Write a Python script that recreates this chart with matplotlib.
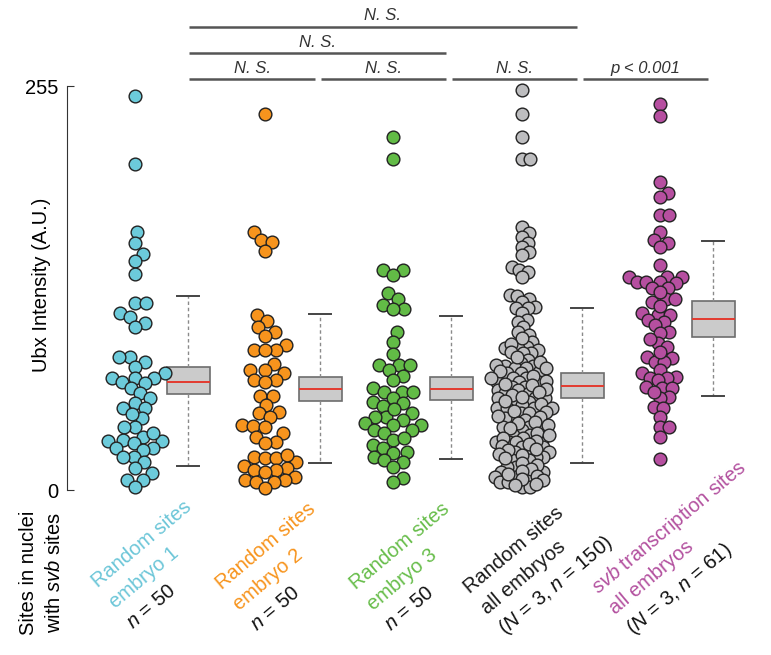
import numpy as np
import matplotlib.pyplot as plt
from matplotlib.transforms import blended_transform_factory

plt.rcParams['font.family'] = ['Liberation Sans', 'DejaVu Sans']
plt.rcParams['mathtext.fontset'] = 'custom'
plt.rcParams['mathtext.rm'] = 'Liberation Sans'
plt.rcParams['mathtext.it'] = 'Liberation Sans:italic'

# =============================================================================
# data (Ubx intensity, A.U.)
# =============================================================================
embryo1 = [248.7, 205.6, 162.7, 155.9, 149.2, 144.4, 136.4, 118.3, 118.3, 111.5,
           109.4, 105.6, 103.1, 84.2, 84.2, 81.0, 77.9, 73.7, 70.9, 70.9,
           70.9, 68.2, 67.3, 64.2, 61.0, 57.9, 55.1, 52.0, 52.0, 45.2,
           40.0, 40.0, 33.7, 31.6, 30.9, 30.9, 29.5, 26.3, 26.3, 25.3,
           21.0, 21.0, 17.9, 13.7, 10.5, 6.3, 6.3, 1.7, 36.0, 48.0]
embryo2 = [237.4, 162.7, 157.8, 156.4, 151.1, 110.5, 106.9, 102.7, 99.9, 97.4,
           91.5, 88.4, 88.4, 88.4, 79.4, 75.8, 75.8, 74.1, 69.4, 69.4,
           68.4, 59.3, 59.3, 53.7, 49.4, 48.4, 46.3, 41.0, 40.4, 40.0,
           35.8, 33.7, 30.5, 29.5, 21.0, 20.0, 20.0, 17.9, 15.2, 13.7,
           12.6, 12.6, 11.6, 8.4, 6.3, 6.3, 5.2, 5.2, 1.1, 22.0]
embryo3 = [222.6, 209.0, 138.9, 138.9, 135.7, 124.2, 120.4, 116.6, 114.1, 114.1,
           99.6, 93.2, 85.9, 78.9, 78.9, 78.9, 75.8, 72.0, 69.4, 64.2,
           62.0, 62.0, 62.0, 57.9, 55.7, 54.7, 53.0, 48.4, 46.3, 46.3,
           44.2, 42.1, 41.0, 41.0, 37.9, 37.9, 35.8, 31.6, 28.4, 26.3,
           24.2, 23.2, 21.0, 18.9, 17.9, 14.7, 7.4, 5.2, 51.0, 33.0]
all_random = [252.5, 237.4, 222.6, 209.0, 209.0, 166.2, 162.0, 159.9, 156.1, 153.2,
              150.4, 148.3, 140.6, 138.9, 137.8, 134.7, 123.1, 122.5, 120.4, 118.9,
              115.7, 114.7, 114.7, 111.5, 107.3, 106.3, 103.1, 99.9, 97.9, 93.6,
              90.5, 89.5, 89.5, 88.4, 86.3, 86.3, 82.1, 80.0, 78.3, 78.3,
              76.8, 76.8, 74.7, 73.7, 73.7, 70.5, 70.5, 68.4, 68.4, 68.4,
              65.2, 65.2, 63.1, 63.1, 61.0, 61.0, 57.9, 57.9, 57.9, 55.7,
              55.7, 53.7, 51.6, 51.6, 51.6, 48.4, 48.4, 45.3, 45.3, 44.2,
              40.0, 40.0, 40.0, 37.9, 34.7, 34.7, 32.6, 32.6, 30.5, 30.5,
              30.5, 27.3, 27.3, 24.2, 24.2, 24.2, 21.0, 21.0, 18.9, 18.9,
              14.7, 14.7, 11.6, 11.6, 8.4, 8.4, 8.4, 5.2, 5.2, 2.1,
              2.1, 96.0, 92.0, 87.0, 84.0, 81.0, 79.0, 77.0, 75.0, 72.0,
              71.0, 69.0, 67.0, 66.0, 64.0, 62.0, 60.0, 59.0, 56.0, 54.0,
              52.0, 50.0, 49.0, 47.0, 46.0, 43.0, 42.0, 41.0, 39.0, 36.0,
              35.0, 33.0, 31.0, 29.0, 28.0, 26.0, 25.0, 23.0, 22.0, 20.0,
              17.0, 16.0, 13.0, 12.0, 10.0, 9.0, 7.0, 6.0, 4.0, 3.0]
svb_sites = [243.7, 236.3, 194.3, 187.3, 184.8, 173.6, 173.6, 163.1, 157.8, 156.1,
             153.6, 142.0, 134.7, 134.7, 134.7, 131.5, 131.5, 131.5, 130.5, 127.3,
             127.3, 118.9, 120.4, 120.4, 111.5, 110.5, 110.5, 107.3, 106.3, 104.2,
             99.9, 99.3, 92.6, 90.5, 83.1, 83.8, 81.0, 81.0, 75.8, 73.7,
             71.5, 70.5, 70.5, 69.4, 65.2, 64.2, 64.2, 58.9, 57.9, 52.6,
             51.6, 46.3, 40.0, 40.0, 33.7, 19.4, 125.0, 116.0, 95.0, 87.0, 62.0]
groups = [embryo1, embryo2, embryo3, all_random, svb_sites]

# box summaries: low whisker, Q1, median, Q3, high whisker
box_low = [15.2, 17.0, 19.4, 17.2, 59.5]
box_q1 = [60.6, 56.2, 56.8, 57.9, 96.4]
box_med = [68.2, 63.8, 64.0, 65.7, 108.0]
box_q3 = [77.6, 71.3, 71.5, 73.7, 119.5]
box_high = [122.5, 111.0, 109.7, 115.0, 157.4]

dot_colors = ['#6ccbdb', '#f7941d', '#62bb46', '#bdbdbf', '#b64fa0']
text_colors = ['#6cc6d8', '#f7941d', '#67bd4a', '#1a1a1a', '#b3519f']
labels = [
    [("Random sites", 1), ("embryo 1", 1), ("$n$ = 50", 0)],
    [("Random sites", 1), ("embryo 2", 1), ("$n$ = 50", 0)],
    [("Random sites", 1), ("embryo 3", 1), ("$n$ = 50", 0)],
    [("Random sites", 1), ("all embryos", 1), ("($N$ = 3, $n$ = 150)", 0)],
    [("$svb$ transcription sites", 1), ("all embryos", 1), ("($N$ = 3, $n$ = 61)", 0)],
]
# comparisons: (group a, group b, row, text)
comparisons = [(0, 3, 0, "N. S."), (0, 2, 1, "N. S."),
               (0, 1, 2, "N. S."), (1, 2, 2, "N. S."),
               (2, 3, 2, "N. S."), (3, 4, 2, "p < 0.001")]

# =============================================================================
# layout (figure pixels)
# =============================================================================
W, H = 771, 655
dot_x = [135, 265, 393, 522, 660]
box_x = [188, 320, 451, 582, 713]
swarm_d = [11, 11, 11, 7.5, 9]
PX = 404 / 255.0

label_x0 = [98, 222, 356, 470, 598]
label_y0 = [588, 590, 590, 594, 594]
row_line_y = [26.7, 53.3, 79]
row_text_y = [15, 42.7, 68.3]
FS = 14.5


def swarm(vals, d):
    ys = np.asarray(vals) * PX
    xs = np.zeros(len(ys))
    done = []
    for i in np.argsort(ys):
        y = ys[i]
        near = [j for j in done if abs(ys[j] - y) < d]
        cands = [0.0]
        for j in near:
            dx = np.sqrt(d ** 2 - (ys[j] - y) ** 2)
            cands += [xs[j] + dx, xs[j] - dx]
        cands.sort(key=abs)
        for c in cands:
            if all((xs[j] - c) ** 2 + (ys[j] - y) ** 2 >= d ** 2 - 1e-6 for j in near):
                xs[i] = c
                break
        done.append(i)
    return xs


fig = plt.figure(figsize=(W / 100, H / 100), dpi=100)
ax = fig.add_axes([67 / W, 165 / H, (W - 67) / W, 404 / H])
ax.set_xlim(67, W)
ax.set_ylim(0, 255)

for k, vals in enumerate(groups):
    off = swarm(vals, swarm_d[k])
    ax.scatter(dot_x[k] + off, vals, s=84, c=dot_colors[k], edgecolors='#222222',
               linewidths=1.0, zorder=3, clip_on=False)

stats = []
for k in range(5):
    stats.append(dict(whislo=box_low[k], q1=box_q1[k], med=box_med[k],
                      q3=box_q3[k], whishi=box_high[k], fliers=[]))
ax.bxp(stats, positions=box_x, widths=43, capwidths=22, patch_artist=True,
       showfliers=False, manage_ticks=False,
       boxprops=dict(facecolor='#cbcbcb', edgecolor='#6d6d6d', linewidth=1.2),
       medianprops=dict(color='#e33b2f', linewidth=1.4),
       whiskerprops=dict(color='#8a8a8a', linestyle=(0, (2.5, 2)), linewidth=1),
       capprops=dict(color='#444444', linewidth=1.4))

for s in ['top', 'right', 'bottom']:
    ax.spines[s].set_visible(False)
ax.spines['left'].set_bounds(0, 255)
ax.spines['left'].set_color('#333333')
ax.spines['left'].set_linewidth(0.8)
ax.set_xticks([])
ax.set_yticks([0, 255])
ax.tick_params(axis='y', direction='in', length=5, width=0.8, color='#333333',
               labelsize=FS, pad=6)

fig.text(42 / W, 1 - 285 / H, "Ubx Intensity (A.U.)", rotation=90,
         ha='center', va='center', fontsize=FS)
fig.text(29 / W, 1 - 573 / H, "Sites in nuclei", rotation=90,
         ha='center', va='center', fontsize=FS)
fig.text(54 / W, 1 - 572 / H, "with $svb$ sites", rotation=90,
         ha='center', va='center', fontsize=FS)

# significance bars
tr = blended_transform_factory(ax.transData, fig.transFigure)
for a, b, row, txt in comparisons:
    x0 = box_x[a] + 1
    x1 = box_x[b] - 5
    yl = 1 - row_line_y[row] / H
    ax.plot([x0, x1], [yl, yl], color='#555555', lw=1.8, transform=tr,
            clip_on=False, solid_capstyle='butt')
    ax.text((x0 + x1) / 2, 1 - row_text_y[row] / H, txt, transform=tr,
            ha='center', va='center', fontsize=12, style='italic',
            color='#333333')

# rotated group labels
ang = 40
step = 27
px_dir = np.array([np.sin(np.radians(ang)), np.cos(np.radians(ang))])
for k, lines in enumerate(labels):
    for i, (txt, colored) in enumerate(lines):
        x = label_x0[k] + px_dir[0] * step * i
        y = label_y0[k] + px_dir[1] * step * i
        fig.text(x / W, 1 - y / H, txt, rotation=ang, rotation_mode='anchor',
                 ha='left', va='baseline', fontsize=FS,
                 color=text_colors[k] if colored else '#111111')

fig.savefig('out.png', dpi=100)
